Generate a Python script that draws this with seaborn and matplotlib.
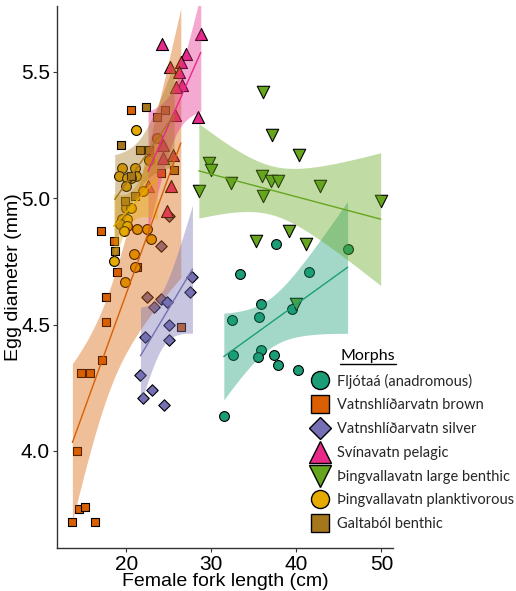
import numpy as np
import pandas as pd
import matplotlib
matplotlib.use("Agg")
import matplotlib.pyplot as plt
import seaborn as sns
from matplotlib.lines import Line2D

# ---------------- data ----------------
morphs = ["Fljótaá (anadromous)", "Vatnshlíðarvatn brown", "Vatnshlíðarvatn silver",
          "Svínavatn pelagic", "Þingvallavatn large benthic",
          "Þingvallavatn planktivorous", "Galtaból benthic"]
colors = ["#1b9e77", "#d95f02", "#7570b3", "#e7298a", "#66a61e", "#e6ab02", "#a6761d"]
markers = ["o", "s", "D", "^", "v", "o", "s"]

fljotaa_len = [31.46, 32.37, 32.49, 33.31, 35.78, 35.58, 35.78, 35.50, 37.55, 37.31, 37.79, 39.43, 40.18, 41.51, 46.03]
fljotaa_egg = [4.14, 4.52, 4.38, 4.70, 4.58, 4.53, 4.40, 4.37, 4.82, 4.38, 4.34, 4.56, 4.32, 4.71, 4.80]

vbrown_len = [13.64, 16.27, 14.42, 15.12, 14.18, 14.62, 15.68, 17.13, 17.60, 17.60, 18.94, 18.54, 16.97, 20.54, 24.04, 21.25, 26.40]
vbrown_egg = [3.72, 3.72, 3.77, 3.78, 4.00, 4.31, 4.31, 4.36, 4.51, 4.61, 4.71, 4.83, 4.87, 5.35, 5.10, 4.73, 4.49]

vsilver_len = [27.77, 27.54, 22.43, 24.12, 23.25, 24.83, 24.98, 22.24, 24.98, 21.65, 22.98, 21.96, 24.48, 24.98, 24.04]
vsilver_egg = [4.69, 4.63, 4.61, 4.60, 4.57, 4.59, 4.50, 4.45, 4.44, 4.30, 4.24, 4.21, 4.18, 4.93, 4.81]

svina_len = [24.19, 28.75, 26.98, 26.40, 25.10, 26.20, 26.55, 25.89, 25.69, 28.48, 24.31, 25.49, 24.31, 25.30, 24.78, 22.54]
svina_egg = [5.61, 5.65, 5.57, 5.54, 5.52, 5.50, 5.45, 5.44, 5.33, 5.32, 5.21, 5.17, 5.16, 5.05, 4.95, 5.05]

lbenth_len = [36.09, 37.11, 40.29, 29.66, 30.01, 28.52, 32.28, 35.90, 36.96, 37.86, 36.09, 42.80, 49.92, 35.23, 39.12, 41.08, 39.98]
lbenth_egg = [5.42, 5.25, 5.17, 5.14, 5.11, 5.03, 5.06, 5.09, 5.07, 5.07, 5.01, 5.05, 4.99, 4.83, 4.87, 4.82, 4.58]

plank_len = [21.18, 23.65, 22.63, 19.48, 19.18, 21.01, 21.18, 20.59, 20.07, 20.00, 21.96, 20.00, 20.59, 19.48,
             20.12, 19.29, 20.07, 19.68, 21.30, 22.47, 22.86, 20.90, 20.98, 18.50, 19.88]
plank_egg = [5.27, 5.24, 5.15, 5.12, 5.09, 5.12, 5.09, 5.08, 5.08, 5.05, 5.03, 4.96, 4.96, 4.92,
             4.92, 4.90, 4.89, 4.87, 4.88, 4.88, 4.84, 4.78, 4.73, 4.75, 4.67]

galta_len = [22.27, 24.59, 23.60, 19.33, 21.65, 22.63, 20.51, 20.98, 19.80, 18.62, 25.61]
galta_egg = [5.36, 5.35, 5.32, 5.21, 5.19, 5.19, 5.09, 5.01, 4.99, 4.79, 5.11]

x_ticks = [20, 30, 40, 50]
y_ticks = [4.0, 4.5, 5.0, 5.5]

groups = [(fljotaa_len, fljotaa_egg), (vbrown_len, vbrown_egg), (vsilver_len, vsilver_egg),
          (svina_len, svina_egg), (lbenth_len, lbenth_egg), (plank_len, plank_egg),
          (galta_len, galta_egg)]
df = pd.concat([pd.DataFrame({"length": g[0], "egg": g[1], "morph": m})
                for g, m in zip(groups, morphs)], ignore_index=True)


def t975(dof):
    """Student-t 97.5% quantile (Cornish-Fisher expansion)."""
    z = 1.959964
    g1 = (z**3 + z) / 4
    g2 = (5 * z**5 + 16 * z**3 + 3 * z) / 96
    g3 = (3 * z**7 + 19 * z**5 + 17 * z**3 - 15 * z) / 384
    g4 = (79 * z**9 + 776 * z**7 + 1482 * z**5 - 1920 * z**3 - 945 * z) / 92160
    return z + g1 / dof + g2 / dof**2 + g3 / dof**3 + g4 / dof**4


def lm_band(x, y, grid):
    x = np.asarray(x, float)
    y = np.asarray(y, float)
    n = len(x)
    b1, b0 = np.polyfit(x, y, 1)
    resid = y - (b0 + b1 * x)
    s = np.sqrt(np.sum(resid**2) / (n - 2))
    sxx = np.sum((x - x.mean())**2)
    se = s * np.sqrt(1 / n + (grid - x.mean())**2 / sxx)
    fit = b0 + b1 * grid
    t = t975(n - 2)
    return fit - t * se, fit + t * se


# ---------------- style ----------------
sns.set_theme(style="white")
plt.rcParams["font.family"] = ["Liberation Sans", "DejaVu Sans"]

fig = plt.figure(figsize=(5.16, 5.91), dpi=100)
ax = fig.add_axes([57 / 516, 1 - 548 / 591, (393 - 57) / 516, (548 - 6) / 591])

point_sizes = [50, 40, 34, 75, 80, 50, 40]

# points first (ribbons drawn over them)
for m, c, mk, s in zip(morphs, colors, markers, point_sizes):
    sub = df[df["morph"] == m]
    sns.scatterplot(data=sub, x="length", y="egg", marker=mk, s=s, color=c,
                    edgecolor="black", linewidth=0.8, ax=ax, legend=False)

# linear fits with 95% confidence ribbons
for m, c in zip(morphs, colors):
    sub = df[df["morph"] == m]
    grid = np.linspace(sub["length"].min(), sub["length"].max(), 100)
    lo, hi = lm_band(sub["length"], sub["egg"], grid)
    ax.fill_between(grid, lo, hi, color=c, alpha=0.4, linewidth=0)
    sns.regplot(data=sub, x="length", y="egg", scatter=False, color=c, ax=ax,
                ci=None, truncate=True, line_kws={"lw": 1.0})

ax.set_xlim(11.83, 51.37)
ax.set_ylim(3.616, 5.761)
ax.set_xticks(x_ticks)
ax.set_yticks(y_ticks)
ax.set_yticklabels([f"{v:.1f}" for v in y_ticks])
ax.set_xticklabels([str(v) for v in x_ticks])
ax.set_xlabel("Female fork length (cm)", fontsize=14, labelpad=-1.0, color="black")
ax.set_ylabel("Egg diameter (mm)", fontsize=14, labelpad=-1, color="black")

for side in ["top", "right"]:
    ax.spines[side].set_visible(False)
for side in ["left", "bottom"]:
    ax.spines[side].set_color("#333333")
    ax.spines[side].set_linewidth(1.0)
ax.tick_params(axis="both", direction="out", length=3, width=0.8, color="#333333",
               labelsize=15, pad=2, labelcolor="black", left=True, bottom=True)

# ---------------- legend ----------------
leg_ms = [13, 13, 11.5, 16, 16, 13, 13]
handles = [Line2D([], [], marker=mk, ls="none", markersize=ms, markerfacecolor=c,
                  markeredgecolor="black", markeredgewidth=1.0)
           for mk, c, ms in zip(markers, colors, leg_ms)]
fig.legend(handles, morphs, loc="upper left", bbox_to_anchor=(313 / 516, 1 - 373.5 / 591),
           frameon=False, prop={"family": "Lato", "size": 10.5}, handlelength=0.9,
           handletextpad=0.74, labelspacing=0.67, borderpad=0, borderaxespad=0)
fig.text(368 / 516, 1 - 356 / 591, "Morphs", ha="center", va="center",
         fontsize=11.5, family="Lato", color="black")
fig.add_artist(Line2D([340 / 516, 396 / 516], [1 - 364 / 591, 1 - 364 / 591],
                      color="black", lw=1.0, transform=fig.transFigure))

fig.savefig("out.png", dpi=100)
